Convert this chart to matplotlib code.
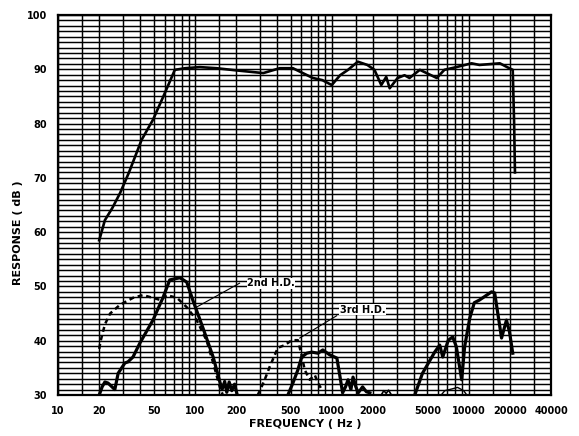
import matplotlib
matplotlib.use("Agg")
import matplotlib.pyplot as plt

# main response (solid, top)
freq_main = [20, 22, 25, 28.4, 33, 40.8, 49.4, 58.6, 71.4, 85, 108.7, 144, 200, 316,
             417, 520, 727, 854, 1000, 1150, 1315, 1550, 1820, 2050, 2300, 2500, 2650,
             3030, 3400, 3700, 4400, 5850, 6650, 8130, 10500, 12000, 16900, 19800,
             21000, 21500, 21800]
db_main = [58.5, 62.2, 64.5, 67.2, 71, 77, 80.7, 84.9, 89.9, 90.2, 90.4, 90.2, 89.8, 89.3,
           90.2, 90.2, 88.4, 88, 87.1, 88.9, 89.9, 91.4, 90.8, 89.9, 87.1, 88.6, 86.5,
           88.4, 88.9, 88.4, 89.9, 88.4, 89.9, 90.4, 91.1, 90.8, 91.1, 90.2,
           89.9, 80, 71]

# low frequency solid
freq_low = [20, 21, 22, 23.2, 24.8, 26, 27.5, 30.8, 32.4, 35.3, 39.7, 49.4, 58.6, 65.5,
            77.7, 87.2, 96.5, 114, 136, 150, 158, 165, 171, 178, 186, 195, 203]
db_low = [30, 31.5, 32.4, 32.2, 31.5, 31, 34, 35.9, 36.1, 37, 39.6, 43.8, 48, 51.2,
          51.6, 50.8, 47.5, 42.5, 37, 33, 31, 32.5, 30.5, 32.4, 30.8, 32, 30.2]

# 2nd H.D. (dashed)
freq_2nd = [20, 20.5, 22, 24, 28.3, 35.3, 41.7, 49.4, 56, 62.3, 74, 87, 103, 122, 136, 152, 160]
db_2nd = [38.5, 40, 43, 45, 46.6, 47.9, 48.4, 47.9, 47.5, 48.4, 47.9, 46.2, 43.8, 40, 35.9, 31.5, 30]

# 3rd H.D. (dashed)
freq_3rd = [288, 320, 352, 404, 454, 511, 565, 600, 635, 691, 751, 794, 845]
db_3rd = [30, 32.5, 35.2, 38.7, 39.2, 40.1, 40.1, 37.5, 34.6, 32.8, 33.7, 32.2, 31]

# mid frequency solid
freq_mid = [478, 520, 565, 603, 657, 714, 794, 860, 967, 1090, 1150, 1200, 1260, 1315,
            1380, 1430, 1500, 1560, 1680, 1790, 1900]
db_mid = [30, 32.2, 34.6, 37, 37.7, 37.9, 37.7, 38.3, 37.4, 36.8, 33.3, 30.4, 31.5, 32.8,
          31, 33.3, 31.5, 30.4, 31.5, 30.6, 30.4]

freq_bump = [2300, 2400, 2500, 2600, 2700]
db_bump = [30, 30.8, 30.3, 30.9, 30.2]

# high frequency solid
freq_high = [4040, 4600, 5650, 6150, 6470, 7100, 7650, 8130, 8900, 9350, 10200, 11000,
             12000, 14700, 15500, 17400, 18900, 19900, 21000]
db_high = [30, 34, 37.9, 39.2, 37, 40.1, 40.7, 38.9, 32.8, 38.9, 44.2, 47,
           47.5, 49, 48.8, 40.5, 43.8, 41.6, 37.7]

freq_hump = [6300, 6700, 7500, 8300, 9200, 9700]
db_hump = [30, 30.8, 31.1, 31.4, 30.8, 30]

xticks = [10, 20, 50, 100, 200, 500, 1000, 2000, 5000, 10000, 20000, 40000]
yticks = [30, 40, 50, 60, 70, 80, 90, 100]

fig = plt.figure(figsize=(5.79, 4.36), dpi=100)
ax = fig.add_axes([0.1002, 0.094, 0.8515, 0.8716])

# log paper grid
for dec in [10, 100, 1000, 10000]:
    for m in [1, 1.5, 2, 3, 4, 5, 6, 7, 8, 9]:
        f = dec * m
        if f <= 40000:
            ax.axvline(f, color="black", lw=1.05, zorder=1)
for d in range(30, 101):
    ax.axhline(d, color="black", lw=1.05, zorder=1)

ax.plot(freq_main, db_main, color="black", lw=1.9, zorder=3)
ax.plot(freq_low, db_low, color="black", lw=2.3, zorder=3)
ax.plot(freq_2nd, db_2nd, color="black", lw=1.8, ls=(0, (2, 1.5)), zorder=3)
ax.plot(freq_3rd, db_3rd, color="black", lw=1.8, ls=(0, (2, 1.5)), zorder=3)
ax.plot(freq_mid, db_mid, color="black", lw=2.3, zorder=3)
ax.plot(freq_bump, db_bump, color="black", lw=1.2, zorder=3)
ax.plot(freq_high, db_high, color="black", lw=2.3, zorder=3)
ax.plot(freq_hump, db_hump, color="black", lw=1.0, zorder=3)

# labels with leader lines
ax.plot([103, 212], [46.2, 50.6], color="black", lw=0.8, zorder=3)
ax.text(240, 50.6, "2nd H.D.", fontsize=7, fontweight="bold", va="center", zorder=4,
        bbox=dict(facecolor="white", edgecolor="none", pad=0.3))
ax.plot([584, 1086], [40.5, 44.6], color="black", lw=0.8, zorder=3)
ax.text(1143, 45.7, "3rd H.D.", fontsize=7, fontweight="bold", va="center", zorder=4,
        bbox=dict(facecolor="white", edgecolor="none", pad=0.3))

ax.set_xscale("log")
ax.set_xlim(10, 40000)
ax.set_ylim(30, 100)
ax.set_xticks(xticks)
ax.set_xticklabels([str(t) for t in xticks], fontsize=7, fontweight="bold")
ax.set_xticks([], minor=True)
ax.set_yticks(yticks)
ax.set_yticklabels([str(t) for t in yticks], fontsize=7, fontweight="bold")
ax.tick_params(length=0, pad=8)
for s in ax.spines.values():
    s.set_linewidth(1.6)
    s.set_zorder(5)

fig.text(18 / 579, 1 - 233 / 436, "RESPONSE ( dB )", rotation=90, fontsize=8,
         fontweight="bold", ha="center", va="center")
fig.text(305 / 579, 1 - 424 / 436, "FREQUENCY ( Hz )", fontsize=8,
         fontweight="bold", ha="center", va="center")

fig.savefig("out.png", dpi=100)
